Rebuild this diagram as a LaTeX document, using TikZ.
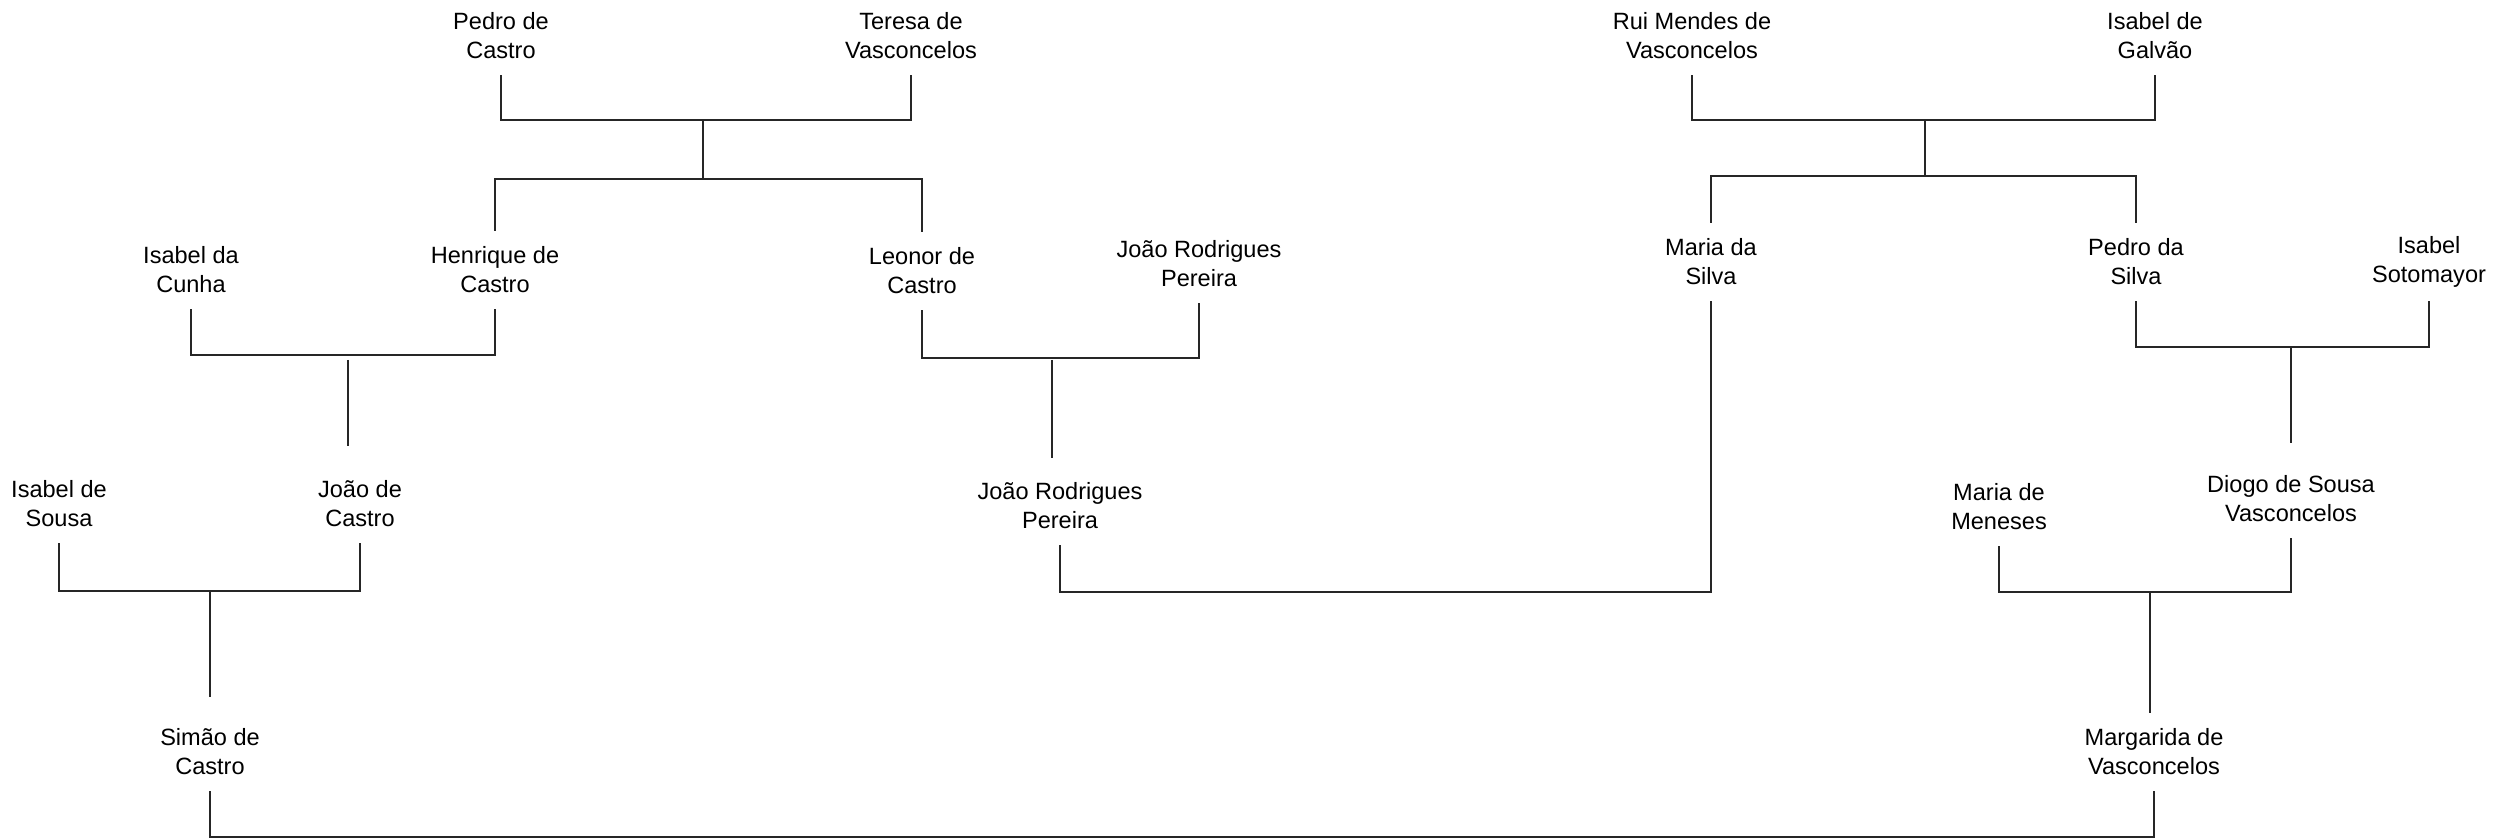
\documentclass[tikz,border=0pt]{standalone}
\usepackage{fontspec}
\setmainfont{Liberation Sans}

\begin{document}
\begin{tikzpicture}[
  persona/.style={align=center, inner sep=0pt, minimum height=0.77cm,
                  font=\fontsize{6.7}{8.2}\selectfont},
  linea/.style={draw=black!85, line width=0.45pt}
]
\useasboundingbox (0,0) rectangle (24.94,8.38);

%--------------------------------------------------------------
% Persone (nome del nodo / posizione / testo)
%--------------------------------------------------------------
\foreach \nome/\x/\y/\testo in {
    pedro/5.01/8.02/{Pedro de\\Castro},
    teresa/9.11/8.02/{Teresa de\\Vasconcelos},
    rui/16.92/8.02/{Rui Mendes de\\Vasconcelos},
    galvao/21.55/8.02/{Isabel de\\Galvão},
    cunha/1.91/5.68/{Isabel da\\Cunha},
    henrique/4.95/5.68/{Henrique de\\Castro},
    leonor/9.22/5.67/{Leonor de\\Castro},
    joaorp/11.99/5.74/{João Rodrigues\\Pereira},
    mariasilva/17.11/5.76/{Maria da\\Silva},
    pedrosilva/21.36/5.76/{Pedro da\\Silva},
    sotomayor/24.29/5.76/{Isabel\\Sotomayor},
    sousa/0.59/3.34/{Isabel de\\Sousa},
    joaocastro/3.60/3.34/{João de\\Castro},
    joaorpfilho/10.60/3.32/{João Rodrigues\\Pereira},
    meneses/19.99/3.31/{Maria de\\Meneses},
    diogo/22.91/3.39/{Diogo de Sousa\\Vasconcelos},
    simao/2.10/0.86/{Simão de\\Castro},
    margarida/21.54/0.86/{Margarida de\\Vasconcelos}}
  \node[persona] (\nome) at (\x,\y) {\testo};

%--------------------------------------------------------------
% Punti di unione delle coppie
%--------------------------------------------------------------
\coordinate (u1) at (7.03,7.18);   \coordinate (v1) at (7.03,6.59);
\coordinate (u2) at (19.25,7.18);  \coordinate (v2) at (19.25,6.62);
\coordinate (u3) at (3.48,4.83);
\coordinate (d3a) at (3.48,4.78);  \coordinate (d3b) at (3.48,3.92);
\coordinate (u4) at (10.52,4.80);
\coordinate (d4a) at (10.52,4.78); \coordinate (d4b) at (10.52,3.80);
\coordinate (u5) at (13.85,2.46);
\coordinate (u6) at (22.91,4.91);  \coordinate (d6) at (22.91,3.95);
\coordinate (u7) at (2.10,2.47);   \coordinate (d7) at (2.10,1.41);
\coordinate (u8) at (21.50,2.46);
\coordinate (u9) at (11.82,0.01);

%--------------------------------------------------------------
% Collegamenti
%--------------------------------------------------------------
\draw[linea] (pedro.south) |- (u1) -| (teresa.south);
\draw[linea] (u1) -- (v1);
\draw[linea] (henrique.north) |- (v1) -| (leonor.north);

\draw[linea] (rui.south) |- (u2) -| (galvao.south);
\draw[linea] (u2) -- (v2);
\draw[linea] (mariasilva.north) |- (v2) -| (pedrosilva.north);

\draw[linea] (cunha.south) |- (u3) -| (henrique.south);
\draw[linea] (d3a) -- (d3b);

\draw[linea] (leonor.south) |- (u4) -| (joaorp.south);
\draw[linea] (d4a) -- (d4b);

\draw[linea] (mariasilva.south) |- (u5) -| (joaorpfilho.south);

\draw[linea] (pedrosilva.south) |- (u6) -| (sotomayor.south);
\draw[linea] (u6) -- (d6);

\draw[linea] (sousa.south) |- (u7) -| (joaocastro.south);
\draw[linea] (u7) -- (d7);

\draw[linea] (meneses.south) |- (u8) -| (diogo.south);
\draw[linea] (u8) -- (u8 |- margarida.north);

\draw[linea] (simao.south) |- (u9) -| (margarida.south);

\end{tikzpicture}
\end{document}
